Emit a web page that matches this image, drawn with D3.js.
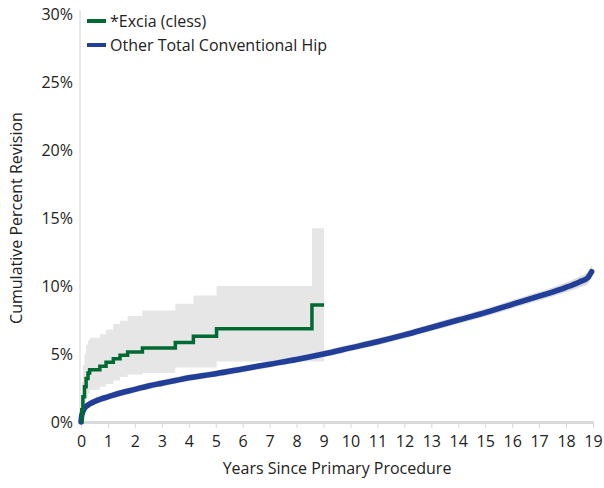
<!DOCTYPE html>
<html>
<head>
<meta charset="utf-8">
<script src="https://cdn.jsdelivr.net/npm/d3@7"></script>
<style>
  html, body { margin: 0; padding: 0; background: #fff; }
  svg { display: block; font-family: "Open Sans", "Noto Sans", sans-serif; }
</style>
</head>
<body>
<svg id="chart" width="604" height="488"></svg>
<script>
// ---- data ----
const xTicks = [0,1,2,3,4,5,6,7,8,9,10,11,12,13,14,15,16,17,18,19];
const yTicks = [0,5,10,15,20,25,30];

const greenName = "*Excia (cless)";
const greenTimes = [0, 0.03, 0.07, 0.13, 0.19, 0.26, 0.32, 0.7, 0.93, 1.2, 1.45, 1.73, 2.28, 3.5, 4.17, 5.03, 8.57, 9.02];
const greenValues = [0, 0.9, 1.85, 2.6, 3.2, 3.6, 3.85, 4.1, 4.4, 4.65, 4.9, 5.15, 5.45, 5.85, 6.3, 6.85, 8.6, 8.6];
const greenUpper = [0, 3.0, 4.2, 5.0, 5.7, 6.0, 6.2, 6.45, 6.8, 7.2, 7.45, 7.8, 8.2, 8.7, 9.3, 10.0, 14.25, 14.25];
const greenLower = [0, 0.2, 0.7, 1.3, 1.75, 2.05, 2.35, 2.6, 2.8, 3.05, 3.3, 3.5, 3.6, 4.0, 4.0, 4.45, 4.45, 4.45];

const blueName = "Other Total Conventional Hip";
const blueTimes = [0, 0.02, 0.05, 0.1, 0.2, 0.3, 0.5, 0.75, 1, 1.5, 2, 2.5, 3, 3.5, 4, 4.5, 5, 6, 7, 8, 9, 10, 11, 12, 13, 14, 15, 16, 17, 18, 18.5, 18.8, 18.95];
const blueValues = [0, 0.4, 0.65, 0.9, 1.15, 1.3, 1.5, 1.7, 1.85, 2.15, 2.4, 2.65, 2.85, 3.05, 3.25, 3.4, 3.55, 3.9, 4.25, 4.6, 5.0, 5.45, 5.9, 6.4, 6.95, 7.5, 8.05, 8.65, 9.25, 9.9, 10.3, 10.6, 11.05];
const blueBand = [0, 0.05, 0.05, 0.05, 0.05, 0.05, 0.05, 0.05, 0.05, 0.05, 0.05, 0.05, 0.05, 0.05, 0.05, 0.05, 0.05, 0.05, 0.05, 0.05, 0.06, 0.06, 0.07, 0.07, 0.08, 0.09, 0.1, 0.12, 0.14, 0.18, 0.22, 0.26, 0.3];

// ---- layout ----
const svg = d3.select("#chart");
const margin = { left: 81, right: 11, top: 14, bottom: 66 };
const W = 604, H = 488;
const x = d3.scaleLinear().domain([0, 19]).range([margin.left, W - margin.right]);
const y = d3.scaleLinear().domain([0, 30]).range([H - margin.bottom, margin.top]);

const greenColor = "#006a32";
const blueColor = "#213f99";
const bandColor = "#e6e6e6";

// y axis line
svg.append("line")
  .attr("x1", x(0) - 1).attr("x2", x(0) - 1)
  .attr("y1", y(30) - 4).attr("y2", y(0))
  .attr("stroke", "#e2e2e2").attr("stroke-width", 1.5);

// y tick labels
const yAxis = d3.axisLeft(y).tickValues(yTicks).tickFormat(d => d + "%").tickSize(0).tickPadding(8);
const gy = svg.append("g").attr("transform", `translate(${x(0)},0)`).call(yAxis);
gy.select(".domain").remove();
gy.selectAll("text").attr("font-size", 16).attr("fill", "#222").attr("font-family", "Open Sans, sans-serif");

// green band
const greenData = greenTimes.map((t, i) => ({ t, v: greenValues[i], lo: greenLower[i], hi: greenUpper[i] }));
svg.append("path")
  .datum(greenData)
  .attr("fill", bandColor)
  .attr("d", d3.area().curve(d3.curveStepAfter).x(d => x(d.t)).y0(d => y(d.lo)).y1(d => y(d.hi)));

// blue band
const blueData = blueTimes.map((t, i) => ({ t, v: blueValues[i], lo: blueValues[i] - blueBand[i], hi: blueValues[i] + blueBand[i] }));
svg.append("path")
  .datum(blueData)
  .attr("fill", "#dcdcdc")
  .attr("d", d3.area().curve(d3.curveMonotoneX).x(d => x(d.t)).y0(d => y(d.lo) + 2.5).y1(d => y(d.hi) - 2.5));

// x axis
const xAxis = d3.axisBottom(x).tickValues(xTicks).tickSize(6).tickPadding(8).tickSizeOuter(0);
const gx = svg.append("g").attr("transform", `translate(0,${y(0)})`).call(xAxis);
gx.select(".domain").attr("stroke", "#dadada").attr("stroke-width", 3);
gx.selectAll(".tick line").attr("stroke", "#dadada").attr("stroke-width", 1);
gx.selectAll("text").attr("font-size", 16).attr("fill", "#222").attr("font-family", "Open Sans, sans-serif");

// blue line
svg.append("path")
  .datum(blueData)
  .attr("fill", "none")
  .attr("stroke", blueColor)
  .attr("stroke-width", 5.5)
  .attr("stroke-linecap", "round")
  .attr("d", d3.line().curve(d3.curveMonotoneX).x(d => x(d.t)).y(d => y(d.v)));

// green line
svg.append("path")
  .datum(greenData)
  .attr("fill", "none")
  .attr("stroke", greenColor)
  .attr("stroke-width", 3.5)
  .attr("d", d3.line().curve(d3.curveStepAfter).x(d => x(d.t)).y(d => y(d.v)));

// axis titles
svg.append("text")
  .attr("x", (x(0) + x(19)) / 2).attr("y", 474)
  .attr("text-anchor", "middle")
  .attr("font-size", 16).attr("fill", "#222")
  .text("Years Since Primary Procedure");

svg.append("text")
  .attr("transform", `translate(22,${(y(0) + y(30)) / 2}) rotate(-90)`)
  .attr("text-anchor", "middle")
  .attr("font-size", 16).attr("fill", "#222")
  .text("Cumulative Percent Revision");

// legend
const legend = [
  { name: greenName, color: greenColor },
  { name: blueName, color: blueColor }
];
const lg = svg.append("g").attr("transform", "translate(87,21)");
legend.forEach((d, i) => {
  lg.append("line")
    .attr("x1", 0).attr("x2", 19)
    .attr("y1", i * 24).attr("y2", i * 24)
    .attr("stroke", d.color).attr("stroke-width", 4);
  lg.append("text")
    .attr("x", 23).attr("y", i * 24 + 6)
    .attr("font-size", 16).attr("fill", "#222")
    .text(d.name);
});
</script>
</body>
</html>
